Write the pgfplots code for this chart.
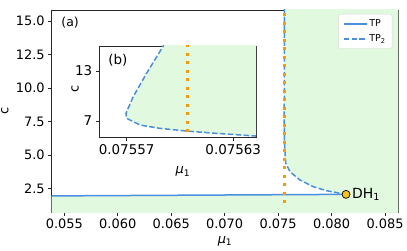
\documentclass[border=0pt]{standalone}
\usepackage{pgfplots}
\pgfplotsset{compat=1.18}
\usepackage{fontspec}
\setmainfont{DejaVu Sans}
\definecolor{tpblue}{HTML}{4A90E2}
\definecolor{dotorange}{HTML}{FF9900}
\definecolor{regiongreen}{HTML}{E1F9DE}
\definecolor{dhgold}{HTML}{F9C20C}
\begin{document}
\begin{tikzpicture}
\pgfplotsset{
  mystyle/.style={
    scale only axis,
    axis line style={black!85, line width=0.7bp},
    tick align=outside,
    tick style={black!85, line width=0.7bp},
    major tick length=3.5bp,
    tick pos=left,
    ticklabel style={font=\fontsize{13}{15}\selectfont},
    /pgf/number format/assume math mode=true,
    scaled ticks=false,
    clip=true,
  }
}
\begin{axis}[mystyle,
  at={(51.7bp,38.7bp)}, anchor=south west,
  width=346.6bp, height=202.3bp,
  xmin=0.05382, xmax=0.08624, ymin=0.71, ymax=15.82,
  xtick={0.055,0.06,0.065,0.07,0.075,0.08,0.085},
  xticklabels={0.055,0.060,0.065,0.070,0.075,0.080,0.085},
  ytick={2.5,5,7.5,10,12.5,15},
  yticklabels={2.5,5.0,7.5,10.0,12.5,15.0},
  xlabel={\textit{μ}\textsubscript{1}},
  ylabel={c},
  xlabel style={at={(axis description cs:0.5,-0.142)}, anchor=center, font=\fontsize{13}{15}\selectfont},
  ylabel style={at={(axis description cs:-0.135,0.5)}, anchor=center, font=\fontsize{13}{15}\selectfont},
  legend style={at={(1,1)}, xshift=-6bp, yshift=-4bp, anchor=north east,
    font=\fontsize{9.5}{11}\selectfont, draw=black!15, rounded corners=2bp,
    fill=white, inner xsep=4.5bp, inner ysep=3.5bp, row sep=2.5bp},
  legend cell align=left,
  legend image code/.code={\draw[#1] (0bp,0bp) -- (23bp,0bp);},
]
% green region
\addplot[fill=regiongreen, draw=none, forget plot] coordinates {
 (0.0530,0.5) (0.0870,0.5) (0.0870,16.5) (0.0755906,16.5) (0.0755906,16.0)
 (0.0755812,12.72) (0.0755737,9.92) (0.0755696,7.92) (0.0755700,7.32)
 (0.0755775,6.52) (0.0755887,6.12) (0.0756037,5.80) (0.0756206,5.52)
 (0.0756428,5.20) (0.07571,4.37) (0.07611,3.74) (0.07705,3.12)
 (0.07829,2.62) (0.07955,2.32) (0.08079,2.13) (0.08135,2.05)
 (0.0530,1.93) (0.0530,0.5)
};
% TP
\addplot[tpblue, line width=1.5bp] coordinates {(0.0530,1.93) (0.08135,2.05)};
\addlegendentry{TP}
% TP2
\addplot[tpblue, line width=1.5bp, dash pattern=on 5.5bp off 2.4bp] coordinates {
 (0.0755906,16.5) (0.0755906,16.0)
 (0.0755812,12.72) (0.0755737,9.92) (0.0755696,7.92) (0.0755700,7.32)
 (0.0755775,6.52) (0.0755887,6.12) (0.0756037,5.80) (0.0756206,5.52)
 (0.0756428,5.20) (0.07571,4.37) (0.07611,3.74) (0.07705,3.12)
 (0.07829,2.62) (0.07955,2.32) (0.08079,2.13) (0.08135,2.05)
};
\addlegendentry{TP\textsubscript{2}}
% orange boundary
\addplot[dotorange, line width=3bp, dash pattern=on 3bp off 5.5bp, forget plot] coordinates {(0.075604,16.2) (0.075604,1.0)};
% DH1
\addplot[only marks, mark=*, mark size=4bp, mark options={fill=dhgold, draw=black, line width=0.7bp}, forget plot] coordinates {(0.08135,2.05)};
\node[anchor=west, inner sep=0pt, xshift=6bp, font=\fontsize{14}{16}\selectfont] at (axis cs:0.08135,2.05) {DH\textsubscript{1}};
\node[font=\fontsize{12.5}{14}\selectfont] at (rel axis cs:0.053,0.94) {(a)};
\end{axis}
% inset
\begin{axis}[mystyle,
  at={(99.3bp,113.3bp)}, anchor=south west,
  width=156.7bp, height=91.7bp,
  axis background/.style={fill=white},
  xmin=0.0755546, xmax=0.0756428, ymin=5.0, ymax=16.0,
  xtick={0.07557,0.07563}, xticklabels={0.07557,0.07563},
  ytick={7,13}, yticklabels={7,13},
  ticklabel style={font=\fontsize{13.5}{15}\selectfont},
  xlabel={\textit{μ}\textsubscript{1}},
  ylabel={c},
  xlabel style={at={(axis description cs:0.534,-0.37)}, anchor=center, font=\fontsize{13}{15}\selectfont},
  ylabel style={at={(axis description cs:-0.155,0.531)}, anchor=center, font=\fontsize{13}{15}\selectfont},
]
\addplot[fill=regiongreen, draw=none] coordinates {
 (0.0755906,16.5) (0.0755906,16.0)
 (0.0755812,12.72) (0.0755737,9.92) (0.0755696,7.92) (0.0755700,7.32)
 (0.0755775,6.52) (0.0755887,6.12) (0.0756037,5.80) (0.0756206,5.52)
 (0.0756428,5.20) (0.07566,4.95) (0.07566,16.5) (0.0755906,16.5)
};
\addplot[tpblue, line width=1.5bp, dash pattern=on 5.5bp off 2.4bp] coordinates {
 (0.0755906,16.5) (0.0755906,16.0)
 (0.0755812,12.72) (0.0755737,9.92) (0.0755696,7.92) (0.0755700,7.32)
 (0.0755775,6.52) (0.0755887,6.12) (0.0756037,5.80) (0.0756206,5.52)
 (0.0756428,5.20) (0.07566,4.95)
};
\addplot[dotorange, line width=3bp, dash pattern=on 3bp off 5.5bp] coordinates {(0.075604,16.2) (0.075604,4.5)};
\node[font=\fontsize{13.5}{15}\selectfont] at (rel axis cs:0.119,0.847) {(b)};
\end{axis}
\pgfresetboundingbox
\path[use as bounding box] (0bp,0bp) rectangle (407bp,251bp);
\end{tikzpicture}
\end{document}
